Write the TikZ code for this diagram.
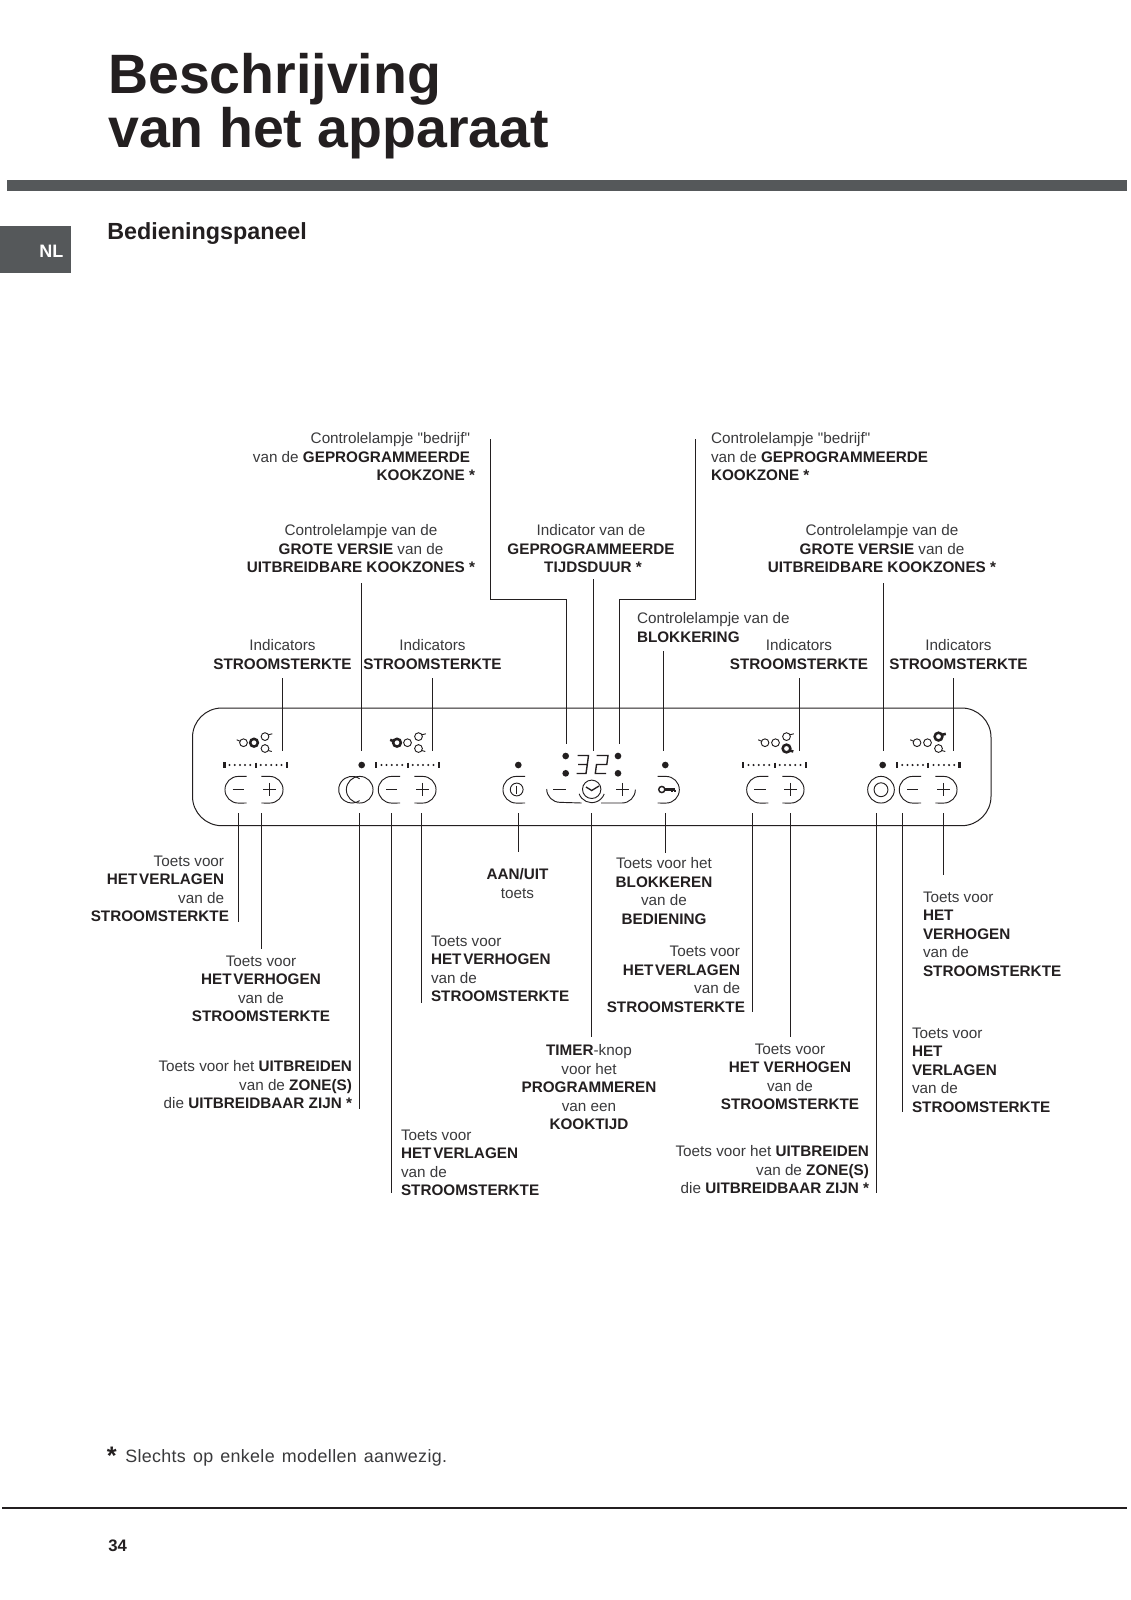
\documentclass[tikz,border=0pt]{standalone}
\usepackage{fontspec}
\setmainfont{Liberation Sans}
\newfontfamily\qf[Ligatures=ResetAll]{Liberation Sans}
\newfontfamily\notef[LetterSpace=1.9,WordSpace=1.35]{Liberation Sans}
\definecolor{ink}{HTML}{231F20}
\definecolor{reg}{HTML}{3A3A3C}
\definecolor{barc}{HTML}{55585A}
\newcommand{\fs}{\fontsize{11.45}{13.9}\selectfont\color{reg}}
\newcommand{\rp}{\rule{3.7pt}{0pt}}
\newcommand{\tb}[1]{\textbf{\color{ink}#1}}
\newcommand{\tbn}[1]{{\bfseries\spaceskip=1.3pt\relax\color{ink}#1}}
\newcommand{\qt}{{\qf\symbol{34}}}
% connector: name, x, y1, y2
\newcommand{\conn}[4]{\coordinate (#1a) at (#2,#3);\coordinate (#1b) at (#2,#4);\draw[wire] (#1a) -- (#1b);}
\newcommand{\minusbtn}[1]{%
 \draw[icon] (#1+8.4,776.4) -- (#1,776.4) arc[start angle=90,end angle=270,radius=10pt] -- (#1+8.4,803);
 \draw[icon] (#1-5.6,789.5) -- (#1+5.7,789.5);}
\newcommand{\plusbtn}[1]{%
 \draw[icon] (#1-8.4,776.4) -- (#1,776.4) arc[start angle=90,end angle=-90,radius=10pt] -- (#1-8.4,803);
 \draw[icon] (#1-6.7,789.5) -- (#1+6.7,789.5) (#1,782.8) -- (#1,796.2);}
\newcommand{\scalebar}[1]{%
 \draw[icon,line width=1.9pt] (#1,762) -- (#1,768) (#1+62.6,762) -- (#1+62.6,768);
 \draw[icon,line width=1.5pt] (#1+31.3,762.5) -- (#1+31.3,767.5);
 \foreach \i in {1,...,5}{
  \fill[ink] (#1+\i*5.2,765) circle[radius=0.85pt];
  \fill[ink] (#1+31.3+\i*5.2,765) circle[radius=0.85pt];}}
% x of left burner, then line widths of the four rings
\newcommand{\burner}[5]{%
 \draw[icon,line width=#2] (#1,742.7) circle[radius=2.9pt];
 \draw[icon,line width=#2] (#1-3.4,741.2) -- (#1-6.8,739.8);
 \draw[icon,line width=#3] (#1+10.5,742.7) circle[radius=2.9pt];
 \draw[icon,line width=#4] (#1+21.5,736.6) circle[radius=2.9pt];
 \draw[icon,line width=#4] (#1+24.8,734.8) -- (#1+28.8,733.8);
 \draw[icon,line width=#5] (#1+21.5,748.5) circle[radius=2.9pt];
 \draw[icon,line width=#5] (#1+24.8,750.5) -- (#1+28.3,751.5);}
\tikzset{
 x=0.75pt,y=-0.75pt,
 wire/.style={draw=ink,line width=0.75pt},
 icon/.style={draw=ink,line width=0.7pt},
 lab/.style={inner sep=0pt,outer sep=0pt,font=\fs,yshift=7.75pt},
 labc/.style={lab,anchor=north,align=center},
 labl/.style={lab,anchor=north west,align=left},
 labr/.style={lab,anchor=north east,align=right},
 lamp/.style={fill=ink,draw=none,circle,inner sep=0pt,minimum size=5pt},
}
\begin{document}
\begin{tikzpicture}
\useasboundingbox (0,0) rectangle (1131,1600);
\fill[white] (0,0) rectangle (1131,1600);
% header
\node[anchor=base west,inner sep=0pt,font=\fontsize{41.6}{41.6}\selectfont\bfseries\color{ink}] (t1) at (108,93) {Beschrijving};
\node[anchor=base west,inner sep=0pt,font=\fontsize{41.6}{41.6}\selectfont\bfseries\color{ink}] (t2) at (108,147.5) {van het apparaat};
\fill[barc] (7,180) rectangle (1127,191);
\fill[barc] (0,226) rectangle (71,273);
\node[anchor=base west,inner sep=0pt,font=\fontsize{13.5}{13.5}\selectfont\bfseries\color{white}] (nl) at (39,257) {NL};
\node[anchor=base west,inner sep=0pt,font=\fontsize{17.5}{17.5}\selectfont\bfseries\color{ink}] (sec) at (107,239) {Bedieningspaneel};
% panel
\draw[wire,rounded corners=22pt] (192.5,708) rectangle (991,825.7);
% top labels
\node[labr] (l1) at (475,443) {Controlelampje \qt bedrijf\qt\rp\\van de \tb{GEPROGRAMMEERDE}\rp\\\tb{KOOKZONE *}};
\node[labl] (l2) at (711,443) {Controlelampje \qt bedrijf\qt\\van de \tb{GEPROGRAMMEERDE}\\\tb{KOOKZONE *}};
\node[labc] (l3) at (361,535) {Controlelampje van de\\\tb{GROTE VERSIE} van de\\\tb{UITBREIDBARE KOOKZONES *}};
\node[labc] (l4) at (591,535) {Indicator van de\\\tb{GEPROGRAMMEERDE}\\\rule{3pt}{0pt}\tb{TIJDSDUUR *}};
\node[labc] (l5) at (882,535) {Controlelampje van de\\\tb{GROTE VERSIE} van de\\\tb{UITBREIDBARE KOOKZONES *}};
\node[labl] (l6) at (637,623) {Controlelampje van de\\\tb{BLOKKERING}};
\node[labc] (l7) at (282.5,650) {Indicators\\\tb{STROOMSTERKTE}};
\node[labc] (l8) at (432.5,650) {Indicators\\\tb{STROOMSTERKTE}};
\node[labc] (l9) at (799,650) {Indicators\\\tb{STROOMSTERKTE}};
\node[labc] (l10) at (958.5,650) {Indicators\\\tb{STROOMSTERKTE}};
% bottom labels
\node[labr] (b1) at (229,866) {Toets voor\rp\\\tbn{HET VERLAGEN}\rp\\van de\rp\\\tb{STROOMSTERKTE}};
\node[labc] (b2) at (261,966) {Toets voor\\\tbn{HET VERHOGEN}\\van de\\\tb{STROOMSTERKTE}};
\node[labr] (b3) at (352,1071) {Toets voor het \tb{UITBREIDEN}\\van de \tb{ZONE(S)}\\die \tb{UITBREIDBAAR ZIJN *}};
\node[labl] (b4) at (401,1140) {Toets voor\\\tbn{HET VERLAGEN}\\van de\\\tb{STROOMSTERKTE}};
\node[labl] (b5) at (431,946) {Toets voor\\\tbn{HET VERHOGEN}\\van de\\\tb{STROOMSTERKTE}};
\node[labc] (b6) at (517.5,879) {\tb{AAN/UIT}\\toets};
\node[labc] (b7) at (664,868) {Toets voor het\\\tb{BLOKKEREN}\\van de\\\tb{BEDIENING}};
\node[labr] (b8) at (745,956.5) {Toets voor\rp\\\tbn{HET VERLAGEN}\rp\\van de\rp\\\tb{STROOMSTERKTE}};
\node[labc] (b9) at (589,1055) {\tb{TIMER}-knop\\voor het\\\tb{PROGRAMMEREN}\\van een\\\tb{KOOKTIJD}};
\node[labc] (b10) at (790,1054) {Toets voor\\\tb{HET VERHOGEN}\\van de\\\tb{STROOMSTERKTE}};
\node[labr] (b11) at (869,1156) {Toets voor het \tb{UITBREIDEN}\\van de \tb{ZONE(S)}\\die \tb{UITBREIDBAAR ZIJN *}};
\node[labl] (b12) at (923,902) {Toets voor\\\tb{HET}\\\tb{VERHOGEN}\\van de\\\tb{STROOMSTERKTE}};
\node[labl] (b13) at (912,1038) {Toets voor\\\tb{HET}\\\tb{VERLAGEN}\\van de\\\tb{STROOMSTERKTE}};
% footnote and footer
\node[anchor=base west,inner sep=0pt,font=\fontsize{19}{19}\selectfont\bfseries\color{ink}] (star) at (106.5,1464.5) {*};
\node[anchor=base west,inner sep=0pt,font=\fontsize{13.4}{13.4}\notef\color{reg}] (note) at (125,1462) {Slechts op enkele modellen aanwezig.};
\node[anchor=base west,inner sep=0pt,font=\fontsize{12.5}{12.5}\selectfont\bfseries\color{ink}] (pg) at (108,1551) {34};
\coordinate (fa) at (2,1508); \coordinate (fb) at (1127,1508);
\draw[draw=ink,line width=1pt] (fa) -- (fb);
% connectors above the panel
\conn{u1}{282.3}{678}{751}
\conn{u2}{361.3}{583}{751}
\conn{u3}{432.3}{678}{751}
\conn{u5}{593.3}{579}{751}
\conn{u7}{663.3}{651}{751}
\conn{u8}{799.3}{678}{751}
\conn{u9}{883.3}{583}{751}
\conn{u10}{953.3}{678}{751}
\coordinate (u4a) at (490,439);\coordinate (u4b) at (566.3,744);
\draw[wire] (u4a) |- (566.3,599) -- (u4b);
\coordinate (u6a) at (695.5,439);\coordinate (u6b) at (619.3,744);
\draw[wire] (u6a) |- (619.3,599) -- (u6b);
% connectors below the panel
\conn{d1}{238.7}{813.3}{922}
\conn{d2}{261.3}{813.3}{949}
\conn{d3}{359.7}{813.3}{1109}
\conn{d4}{391.3}{813.3}{1193}
\conn{d5}{421.3}{813.3}{1003}
\conn{d6}{518.3}{813.3}{852}
\conn{d7}{591.3}{813.3}{1037}
\conn{d8}{665.3}{813.3}{853}
\conn{d9}{752.3}{813.3}{1012}
\conn{d10}{790.3}{813.3}{1037}
\conn{d11}{876.7}{813.3}{1193}
\conn{d12}{902.3}{813.3}{1112}
\conn{d13}{943.3}{813.3}{875}
% burners
\burner{243.5}{0.7pt}{1.9pt}{0.7pt}{0.7pt}
\burner{397}{1.9pt}{0.7pt}{0.7pt}{0.7pt}
\burner{765}{0.7pt}{0.7pt}{0.7pt}{1.9pt}
\burner{917}{0.7pt}{0.7pt}{1.9pt}{0.7pt}
% scales
\scalebar{224.3}
\scalebar{376.2}
\scalebar{743.2}
\scalebar{897}
% buttons
\minusbtn{238.3}\plusbtn{269.7}
\minusbtn{391.6}\plusbtn{422.7}
\minusbtn{760}\plusbtn{790.7}
\minusbtn{912.6}\plusbtn{943.7}
% lamps
\node[lamp] (p1) at (361.7,765) {};
\node[lamp] (p2) at (518.3,765) {};
\node[lamp] (p3) at (665.3,765) {};
\node[lamp] (p4) at (882.7,765) {};
\node[lamp] (p5) at (565.7,756) {};
\node[lamp] (p6) at (565.7,773.3) {};
\node[lamp] (p7) at (618,756) {};
\node[lamp] (p8) at (618,773.3) {};
% zone circles
\draw[icon] (359.7,789.7) circle[radius=10pt];
\draw[icon] (352,789.7) ++(55:10pt) arc[start angle=55,end angle=305,radius=10pt];
\draw[icon] (881,789.7) circle[radius=10pt];
\draw[icon] (881,789.7) circle[radius=5.2pt];
% on/off
\draw[icon] (525,776.4) -- (516.3,776.4) arc[start angle=90,end angle=270,radius=10pt] -- (525,803);
\draw[icon] (516.7,789.5) circle[radius=4.8pt];
\draw[icon,line width=0.9pt] (516.7,785.5) -- (516.7,793.5);
% digits
\draw[icon,line width=1.05pt] (577.5,755.5) -- (588.5,755.5) -- (587.3,764.5) -- (578,764.5) (587.3,764.5) -- (586,773.5) -- (576.5,773.5);
\draw[icon,line width=1.05pt] (596.5,755.5) -- (608,755.5) -- (606.8,764.5) -- (596.5,764.5) -- (595.3,773.5) -- (606,773.5);
% timer row
\draw[icon] (546.7,789) arc[start angle=180,end angle=270,radius=10pt] -- (581.7,803);
\draw[icon] (553.3,789.5) -- (566,789.5);
\draw[icon] (591.7,789.3) circle[radius=6.9pt];
\draw[icon] (591.7,789.3) ++(200:10pt) arc[start angle=200,end angle=340,radius=10pt];
\draw[icon,line width=1pt] (586,787) -- (591.7,790.5) -- (599,786);
\draw[icon] (601,803) -- (622,803) arc[start angle=270,end angle=360,radius=10pt];
\draw[icon] (616,789.5) -- (629.4,789.5) (622.7,782.8) -- (622.7,796.2);
% key
\draw[icon] (657.7,776.4) -- (666,776.4) arc[start angle=90,end angle=-90,radius=10pt] -- (657.7,803);
\draw[icon,line width=1.1pt] (661.8,789.5) circle[radius=2.3pt];
\draw[icon,line width=1.6pt] (665,789.5) -- (675,789.5);
\draw[icon,line width=1.2pt] (672,789.5) -- (672,791.8) (675,789.5) -- (675,791.8);
\end{tikzpicture}
\end{document}
